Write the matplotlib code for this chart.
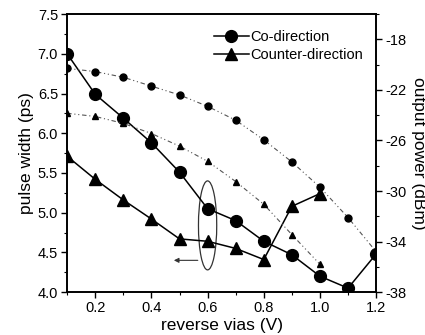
import matplotlib.pyplot as plt
from matplotlib.patches import Ellipse
from matplotlib.ticker import MultipleLocator

plt.rcParams['font.family'] = ['Liberation Sans', 'DejaVu Sans']
plt.rcParams['axes.unicode_minus'] = False

# --- data ---
vias = [0.1, 0.2, 0.3, 0.4, 0.5, 0.6, 0.7, 0.8, 0.9, 1.0, 1.1, 1.2]
co_width = [7.00, 6.49, 6.19, 5.88, 5.51, 5.05, 4.90, 4.64, 4.47, 4.20, 4.05, 4.48]
co_power = [-20.3, -20.55, -21.0, -21.7, -22.4, -23.3, -24.4, -25.95, -27.7, -29.7, -32.1, -34.8]

vias_cnt = [0.1, 0.2, 0.3, 0.4, 0.5, 0.6, 0.7, 0.8, 0.9, 1.0]
cnt_width = [5.71, 5.42, 5.16, 4.92, 4.67, 4.64, 4.55, 4.41, 5.08, 5.24]
cnt_power = [-23.85, -24.1, -24.65, -25.45, -26.45, -27.65, -29.25, -31.05, -33.45, -35.8]

fig = plt.figure(figsize=(4.25, 3.35), dpi=100)
ax = fig.add_axes([0.158, 0.128, 0.727, 0.83])
ax2 = ax.twinx()

ax.plot(vias, co_width, '-', color='black', lw=1.1, marker='o', ms=8.5,
        label='Co-direction')
ax.plot(vias_cnt, cnt_width, '-', color='black', lw=1.1, marker='^', ms=8.5,
        label='Counter-direction')

dashdot = (0, (4, 2.5, 1, 2.5, 1, 2.5))
ax2.plot(vias, co_power, color='#555555', lw=0.8, ls=dashdot, marker='o', ms=5,
         mfc='black', mec='black')
ax2.plot(vias_cnt, cnt_power, color='#555555', lw=0.8, ls=dashdot, marker='^', ms=5,
         mfc='black', mec='black')

# ellipse + arrow pointing at the left axis
ax.add_patch(Ellipse((0.6, 4.84), 0.065, 1.12, fill=False, ec='#333333', lw=0.9))
ax.annotate('', xy=(0.47, 4.40), xytext=(0.575, 4.40),
            arrowprops=dict(arrowstyle='-|>', color='#333333', lw=0.8,
                            mutation_scale=7))

ax.set_xlim(0.1, 1.2)
ax.set_ylim(4.0, 7.5)
ax2.set_ylim(-38, -16)

ax.set_xticks([0.2, 0.4, 0.6, 0.8, 1.0, 1.2])
ax.xaxis.set_minor_locator(MultipleLocator(0.1))
ax.set_yticks([4.0, 4.5, 5.0, 5.5, 6.0, 6.5, 7.0, 7.5])
ax.yaxis.set_minor_locator(MultipleLocator(0.25))
ax2.set_yticks([-38, -34, -30, -26, -22, -18])
ax2.yaxis.set_minor_locator(MultipleLocator(2))

for a in (ax, ax2):
    a.tick_params(which='major', direction='out', length=4, width=1, labelsize=10.5,
                  pad=2.5)
    a.tick_params(which='minor', direction='out', length=2, width=0.8)
    for s in a.spines.values():
        s.set_linewidth(1.2)

ax.set_xlabel('reverse vias (V)', fontsize=12.5, labelpad=2)
ax.set_ylabel('pulse width (ps)', fontsize=12.5, labelpad=3)
ax2.set_ylabel('output power (dBm)', fontsize=12.5, rotation=-90, labelpad=3,
               va='bottom')

ax.legend(loc='upper right', frameon=False, fontsize=10.5, handlelength=2.4,
          handletextpad=0.1, borderaxespad=0.5, labelspacing=0.3,
          bbox_to_anchor=(1.0, 0.99))

fig.savefig('out.png', dpi=100)
